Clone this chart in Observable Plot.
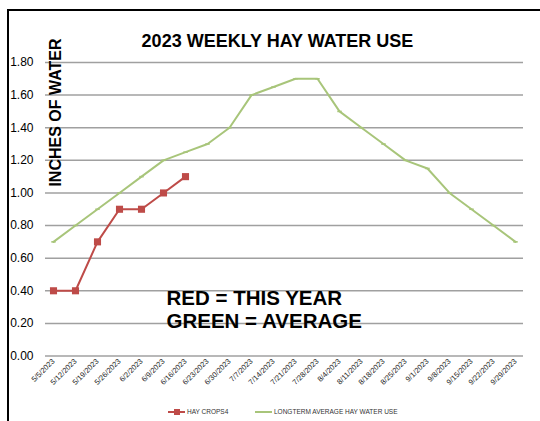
<!DOCTYPE html>
<html>
<head>
<meta charset="utf-8">
<script src="https://cdn.jsdelivr.net/npm/d3@7"></script>
<script src="https://cdn.jsdelivr.net/npm/@observablehq/plot@0.6"></script>
<style>
  html, body { margin: 0; padding: 0; background: #fff; }
  #wrap { position: relative; width: 540px; height: 421px; overflow: hidden; background: #fff; }
  #frame { position: absolute; left: 7px; top: 9px; right: -5px; bottom: -5px; border-left: 2px solid #000; border-top: 2px solid #000; pointer-events: none; }
  #legend { position: absolute; left: 0; top: 402px; height: 19px; width: 540px; font-family: "Liberation Sans", Arial, sans-serif; font-size: 6.5px; color: #333; }
  .item { position: absolute; top: 6px; display: flex; align-items: center; }
  .sw { position: relative; width: 17px; height: 7px; margin-right: 2px; }
  .sw .ln { position: absolute; left: 0; right: 0; top: 2.5px; height: 2px; }
  .sw .mk { position: absolute; left: 5.5px; top: 0.5px; width: 6px; height: 6px; }
</style>
</head>
<body>
<div id="wrap">
  <div id="chart"></div>
  <div id="frame"></div>
  <div id="legend"></div>
</div>
<script>
const weeks = ["5/5/2023","5/12/2023","5/19/2023","5/26/2023","6/2/2023","6/9/2023","6/16/2023","6/23/2023","6/30/2023","7/7/2023","7/14/2023","7/21/2023","7/28/2023","8/4/2023","8/11/2023","8/18/2023","8/25/2023","9/1/2023","9/8/2023","9/15/2023","9/22/2023","9/29/2023"];
const hayCrops4 = [0.40, 0.40, 0.70, 0.90, 0.90, 1.00, 1.10];
const longtermAvg = [0.70, 0.80, 0.90, 1.00, 1.10, 1.20, 1.25, 1.30, 1.40, 1.60, 1.65, 1.70, 1.70, 1.50, 1.40, 1.30, 1.20, 1.15, 1.00, 0.90, 0.80, 0.70];
const yTicks = [0, 0.2, 0.4, 0.6, 0.8, 1.0, 1.2, 1.4, 1.6, 1.8];
const seriesNames = ["HAY CROPS4", "LONGTERM AVERAGE HAY WATER USE"];
const title = "2023 WEEKLY HAY WATER USE";
const yLabel = "INCHES OF WATER";
const noteLines = ["RED = THIS YEAR", "GREEN = AVERAGE"];

const RED = "#BE4B48";
const GREEN = "#A8C57A";

const red = hayCrops4.map((v, i) => ({week: weeks[i], value: v}));
const green = longtermAvg.map((v, i) => ({week: weeks[i], value: v}));

const dash = {
  draw(ctx, size) {
    const w = Math.sqrt(size) / 2;
    ctx.moveTo(-w, -0.8); ctx.lineTo(w, -0.8); ctx.lineTo(w, 0.8); ctx.lineTo(-w, 0.8); ctx.closePath();
  }
};

const chart = Plot.plot({
  width: 540,
  height: 402,
  marginLeft: 45,
  marginRight: 17,
  marginTop: 62,
  marginBottom: 46.5,
  style: {background: "transparent", fontFamily: "Liberation Sans, Arial, sans-serif"},
  x: {type: "point", domain: weeks, padding: 0},
  y: {domain: [0, 1.8]},
  marks: [
    Plot.ruleY(yTicks, {stroke: "#a0a0a0", strokeWidth: 1.5}),
    Plot.axisY({ticks: yTicks, tickSize: 0, tickPadding: 12, tickFormat: d => d.toFixed(2), fontSize: 12, fill: "#000", label: null}),
    Plot.axisX({tickSize: 0, tickPadding: 4, tickRotate: -45, fontSize: 7.5, fill: "#222", label: null}),
    Plot.text(noteLines, {x: () => weeks[5], y: (d, i) => [0.35, 0.21][i], text: d => d, textAnchor: "start", lineAnchor: "middle", dx: 3, fontSize: 20.5, fontWeight: "bold", fill: "#000", fontFamily: "Liberation Sans, Arial, sans-serif"}),
    Plot.line(green, {x: "week", y: "value", stroke: GREEN, strokeWidth: 2}),
    Plot.dot(green, {x: "week", y: "value", symbol: dash, r: 2.5, fill: GREEN, stroke: "none"}),
    Plot.line(red, {x: "week", y: "value", stroke: RED, strokeWidth: 2}),
    Plot.dot(red, {x: "week", y: "value", symbol: "square", r: 4, fill: RED, stroke: "none"}),
    Plot.text([title], {frameAnchor: "top", dx: -7, dy: -16, lineAnchor: "bottom", fontSize: 18, fontWeight: "bold", fill: "#000", fontFamily: "Liberation Sans, Arial, sans-serif"}),
    Plot.text([yLabel], {frameAnchor: "top-left", dx: 10, dy: 50, rotate: -90, textAnchor: "middle", lineAnchor: "middle", fontSize: 16, fontWeight: "bold", fill: "#000", fontFamily: "Liberation Sans, Arial, sans-serif"})
  ]
});
document.getElementById("chart").appendChild(chart);

const legend = document.getElementById("legend");
const items = [
  {name: seriesNames[0], color: RED, marker: true, left: 168},
  {name: seriesNames[1], color: GREEN, marker: false, left: 255}
];
for (const it of items) {
  const el = document.createElement("div");
  el.className = "item";
  el.style.left = it.left + "px";
  el.innerHTML = `<div class="sw"><div class="ln" style="background:${it.color}"></div>${it.marker ? `<div class="mk" style="background:${it.color}"></div>` : ""}</div><span>${it.name}</span>`;
  legend.appendChild(el);
}
</script>
</body>
</html>
